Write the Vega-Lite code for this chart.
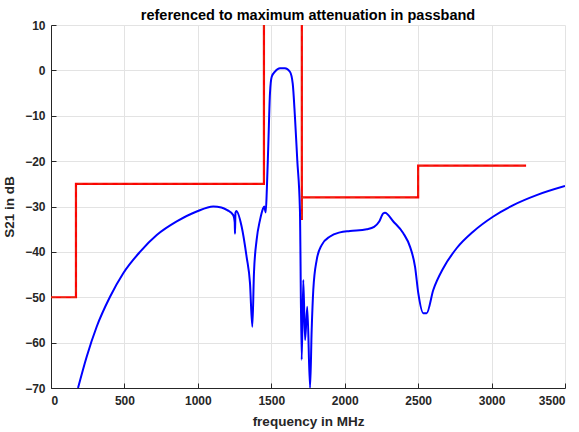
{
  "$schema": "https://vega.github.io/schema/vega-lite/v6.json",
  "width": 514,
  "height": 363,
  "autosize": "none",
  "padding": {"left": 51, "top": 25, "right": 14, "bottom": 44},
  "background": "white",
  "title": {"text": "referenced to maximum attenuation in passband", "font": "Liberation Sans", "fontSize": 14.5, "fontWeight": "bold", "color": "#000000", "offset": 5, "dy": 9, "anchor": "middle"},
  "config": {
    "view": {"stroke": null},
    "axis": {
      "labelFont": "Liberation Sans", "labelFontSize": 12, "labelFontWeight": "bold", "labelColor": "#262626",
      "titleFont": "Liberation Sans", "titleFontSize": 13.5, "titleFontWeight": "bold", "titleColor": "#262626",
      "gridColor": "#e3e3e3", "gridWidth": 1, "domainColor": "#262626", "tickColor": "#262626", "tickSize": -5
    }
  },
  "datasets": {
    "mask": [
      {"i": 0, "f": 0, "v": -50},
      {"i": 1, "f": 170, "v": -50},
      {"i": 2, "f": 170, "v": -25},
      {"i": 3, "f": 1450, "v": -25},
      {"i": 4, "f": 1450, "v": 20},
      {"i": 5, "f": 1708, "v": 20},
      {"i": 6, "f": 1708, "v": -33},
      {"i": 7, "f": 1708, "v": -28},
      {"i": 8, "f": 2500, "v": -28},
      {"i": 9, "f": 2500, "v": -21},
      {"i": 10, "f": 3235, "v": -21}
    ],
    "s21": [
      {"i": 0, "f": 184, "v": -70},
      {"i": 1, "f": 243, "v": -63.1},
      {"i": 2, "f": 311, "v": -56.5},
      {"i": 3, "f": 402, "v": -49.9},
      {"i": 4, "f": 492, "v": -44.7},
      {"i": 5, "f": 606, "v": -40.0},
      {"i": 6, "f": 720, "v": -36.3},
      {"i": 7, "f": 856, "v": -33.3},
      {"i": 8, "f": 992, "v": -31.1},
      {"i": 9, "f": 1105, "v": -30.0},
      {"i": 10, "f": 1160, "v": -30.2},
      {"i": 11, "f": 1200, "v": -30.8},
      {"i": 12, "f": 1241, "v": -31.9},
      {"i": 13, "f": 1251, "v": -33.5},
      {"i": 14, "f": 1253, "v": -36.0},
      {"i": 15, "f": 1256, "v": -31.4},
      {"i": 16, "f": 1262, "v": -31.0},
      {"i": 17, "f": 1298, "v": -34.4},
      {"i": 18, "f": 1332, "v": -41.1},
      {"i": 19, "f": 1355, "v": -46.9},
      {"i": 20, "f": 1371, "v": -56.5},
      {"i": 21, "f": 1382, "v": -44.7},
      {"i": 22, "f": 1400, "v": -37.4},
      {"i": 23, "f": 1423, "v": -33.0},
      {"i": 24, "f": 1443, "v": -30.5},
      {"i": 25, "f": 1452, "v": -30.0},
      {"i": 26, "f": 1462, "v": -31.3},
      {"i": 27, "f": 1470, "v": -26.0},
      {"i": 28, "f": 1480, "v": -16.1},
      {"i": 29, "f": 1491, "v": -5.1},
      {"i": 30, "f": 1503, "v": -1.4},
      {"i": 31, "f": 1525, "v": -0.3},
      {"i": 32, "f": 1559, "v": 0.45},
      {"i": 33, "f": 1593, "v": 0.45},
      {"i": 34, "f": 1627, "v": -0.3},
      {"i": 35, "f": 1646, "v": -2.9},
      {"i": 36, "f": 1661, "v": -10.2},
      {"i": 37, "f": 1677, "v": -19.8},
      {"i": 38, "f": 1695, "v": -30.8},
      {"i": 39, "f": 1707, "v": -63.8},
      {"i": 40, "f": 1718, "v": -46.2},
      {"i": 41, "f": 1730, "v": -59.4},
      {"i": 42, "f": 1745, "v": -52.1},
      {"i": 43, "f": 1764, "v": -70},
      {"i": 44, "f": 1775, "v": -57.2},
      {"i": 45, "f": 1786, "v": -48.4},
      {"i": 46, "f": 1809, "v": -41.8},
      {"i": 47, "f": 1843, "v": -38.5},
      {"i": 48, "f": 1900, "v": -36.6},
      {"i": 49, "f": 1968, "v": -35.7},
      {"i": 50, "f": 2036, "v": -35.4},
      {"i": 51, "f": 2150, "v": -35.0},
      {"i": 52, "f": 2200, "v": -34.5},
      {"i": 53, "f": 2235, "v": -33.3},
      {"i": 54, "f": 2263, "v": -31.5},
      {"i": 55, "f": 2274, "v": -31.4},
      {"i": 56, "f": 2331, "v": -33.3},
      {"i": 57, "f": 2399, "v": -35.9},
      {"i": 58, "f": 2445, "v": -38.9},
      {"i": 59, "f": 2479, "v": -43.3},
      {"i": 60, "f": 2501, "v": -49.1},
      {"i": 61, "f": 2535, "v": -53.5},
      {"i": 62, "f": 2558, "v": -53.5},
      {"i": 63, "f": 2603, "v": -48.4},
      {"i": 64, "f": 2671, "v": -43.6},
      {"i": 65, "f": 2762, "v": -39.2},
      {"i": 66, "f": 2876, "v": -35.5},
      {"i": 67, "f": 3012, "v": -32.2},
      {"i": 68, "f": 3148, "v": -29.7},
      {"i": 69, "f": 3307, "v": -27.5},
      {"i": 70, "f": 3500, "v": -25.5}
    ]
  },
  "encoding": {
    "x": {"field": "f", "type": "quantitative", "scale": {"domain": [0, 3500], "nice": false, "zero": false},
          "axis": {"title": "frequency in MHz", "format": "d", "values": [0, 500, 1000, 1500, 2000, 2500, 3000, 3500], "labelPadding": 12, "titlePadding": 8}},
    "y": {"field": "v", "type": "quantitative", "scale": {"domain": [-70, 10], "nice": false, "zero": false},
          "axis": {"title": "S21 in dB", "format": "d", "values": [-70, -60, -50, -40, -30, -20, -10, 0, 10], "labelPadding": 11, "titlePadding": 8}}
  },
  "layer": [
    {"data": {"name": "mask"}, "mark": {"type": "line", "color": "#ff0000", "strokeWidth": 2.2, "clip": true, "interpolate": "linear"},
     "encoding": {"order": {"field": "i", "type": "quantitative"}}},
    {"data": {"name": "mask"}, "mark": {"type": "line", "color": "#b0702a", "strokeWidth": 1, "strokeDash": [5, 5], "opacity": 0.5, "clip": true},
     "encoding": {"order": {"field": "i", "type": "quantitative"}}},
    {"data": {"name": "s21"}, "mark": {"type": "line", "color": "#0000ff", "strokeWidth": 2, "clip": true, "interpolate": "monotone"},
     "encoding": {"order": {"field": "i", "type": "quantitative"}}}
  ]
}
